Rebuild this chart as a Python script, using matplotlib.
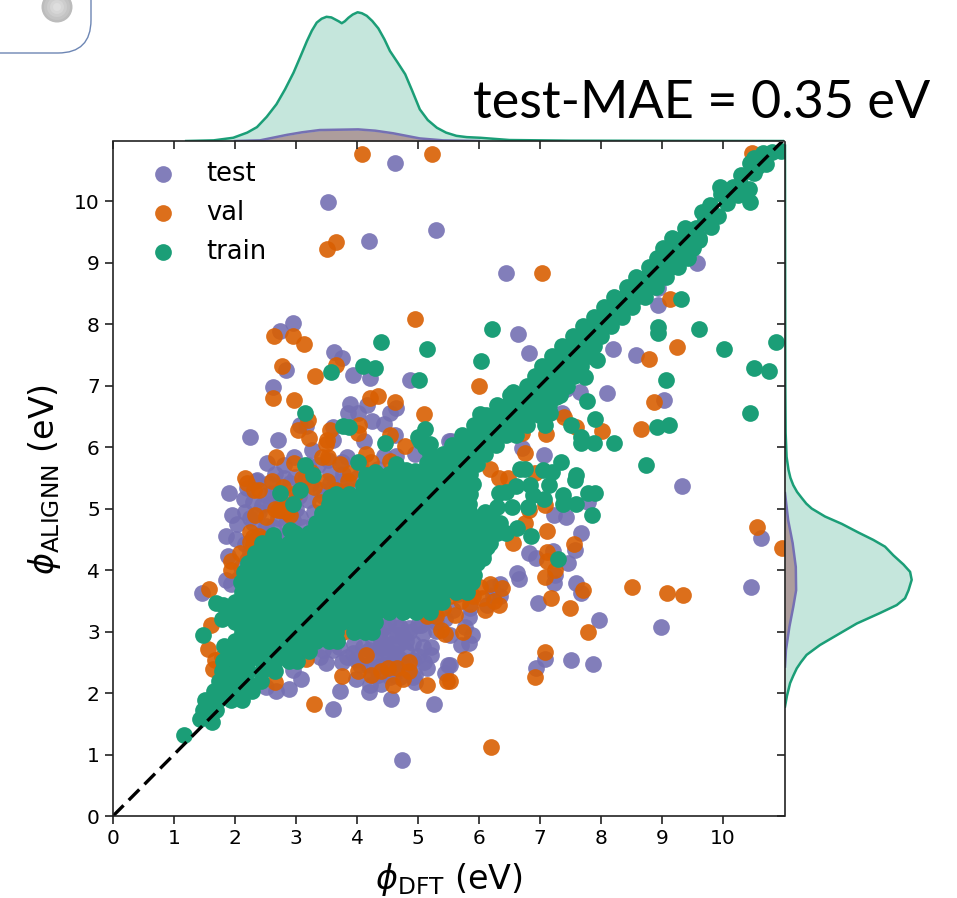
import matplotlib
matplotlib.use('Agg')
import matplotlib.pyplot as plt
from matplotlib.patches import FancyBboxPatch, Circle

##DATA

test_pts = [(4.62,10.62),(3.53,9.99),(4.20,9.35),(5.30,9.53),(2.95,8.02),(2.73,7.89),(3.62,7.55),(3.76,7.44),
    (2.83,7.25),(3.93,7.17),(4.22,7.13),(4.87,7.09),(2.62,6.97),(3.89,6.70),(4.16,6.68),(4.64,6.63),(4.54,6.55),
    (3.85,6.55),(4.02,6.56),(4.25,6.43),(4.44,6.37),(3.06,6.36),(3.16,6.34),(2.24,6.17),(2.71,6.12),(3.61,6.32),
    (4.63,6.19),(4.11,6.09),(3.27,5.95),(3.60,6.11),(5.50,6.09),(4.95,5.88),(4.64,5.85),(4.45,5.85),(3.83,5.83),
    (2.97,5.83),(2.52,5.74),(2.81,5.71),(2.65,5.56),(3.52,5.79),(3.36,5.71),(2.36,5.46),(3.55,5.57),(3.77,5.56),
    (2.98,5.52),(6.44,8.83),(6.64,7.84),(6.82,7.53),(7.43,6.95),(7.65,6.89),(8.10,6.88),(8.19,7.60),(8.57,7.49),
    (9.04,6.77),(9.57,8.99),(8.94,8.31),(9.61,9.55),(7.36,6.56),(6.71,5.98),(7.07,5.87),(5.54,6.09),(8.94,8.58),
    (1.90,5.26),(2.16,4.95),(2.03,4.75),(1.85,4.55),(1.89,4.23),(1.86,3.83),(1.94,3.77),(1.46,3.63),(2.19,5.33),
    (2.51,5.22),(2.57,5.08),(3.20,5.14),(2.19,4.16),(2.02,4.51),(2.17,4.43),(2.30,4.76),(2.49,4.38),(2.95,4.81),
    (3.11,4.70),(3.06,4.87),(2.84,4.76),(2.62,4.70),(3.22,4.60),(3.39,5.30),(3.55,5.41),(4.15,5.08),(4.21,4.92),
    (2.90,5.41),(2.35,5.44),(2.45,4.60),(2.70,4.85),(2.40,4.95),(3.00,5.00),(2.75,5.10),(3.30,4.95),(2.55,4.45),
    (2.35,4.50),(2.50,4.72),(2.65,4.55),(2.80,4.55),(2.95,4.62),(3.10,4.55),(3.30,4.75),(3.45,4.85),(2.25,4.85),
    (2.45,5.05),(2.60,5.25),(2.85,5.15),(3.05,5.20),(3.25,5.40),(3.45,5.20),(3.60,5.35),(3.85,5.30),(3.75,5.45),
    (4.00,5.50),(4.35,5.35),(4.50,5.30),(3.15,5.50),(2.80,5.50),(2.55,5.42),(2.15,5.15),(2.30,5.10),(1.95,4.90),
    (3.20,5.70),(3.75,5.75),(4.05,5.70),(4.35,5.65),(4.70,5.50),(2.25,4.30),(2.10,4.05),(2.05,3.85),
    (2.95,2.37),(3.09,2.23),(2.89,2.06),(2.67,2.04),(2.51,2.10),(3.39,2.59),(3.49,2.49),(3.76,2.51),(3.99,2.23),
    (3.72,2.04),(3.61,1.74),(4.20,2.01),(4.21,2.13),(4.39,2.14),(4.56,1.91),(4.95,2.18),(5.26,1.82),(4.74,0.91),
    (5.19,3.21),(5.29,3.01),(5.22,2.75),(5.22,2.62),(5.08,2.97),(5.49,2.45),(5.44,2.33),(4.95,2.29),(4.18,2.46),
    (3.83,2.59),(3.93,2.65),(4.10,2.75),(4.26,2.86),(4.37,2.75),(4.64,3.13),(4.54,2.92),(4.75,2.92),(4.43,2.59),
    (4.64,2.64),(4.81,2.70),(4.59,2.43),(4.75,2.48),(4.32,2.43),(4.54,2.26),(4.70,2.26),(4.92,2.54),(4.37,2.97),
    (4.70,3.08),(4.48,2.75),(4.15,2.59),(3.99,2.54),(4.92,2.81),(4.67,2.78),(4.92,2.26),(4.45,3.08),(5.08,2.75),
    (4.30,3.05),(4.50,3.15),(4.85,3.05),(5.00,3.10),(4.20,2.70),(4.30,2.60),(4.45,2.45),(4.60,2.55),(4.80,2.40),
    (4.70,2.55),(4.55,2.80),(4.40,2.85),(4.65,2.95),(4.80,2.85),(4.50,2.65),(4.85,3.00),(4.35,2.30),(4.60,2.30),
    (4.25,2.30),(4.05,2.45),(5.00,2.60),(5.10,2.50),(5.05,3.10),(5.30,3.15),(5.45,3.20),(3.95,2.80),(3.70,2.75),
    (3.60,2.70),(3.45,2.70),(5.15,2.40),
    (9.33,5.37),(10.62,4.52),(10.46,3.73),(8.99,3.07),(7.96,3.19),(7.87,2.47),(7.51,2.54),(7.08,2.56),(6.93,2.40),
    (6.96,3.46),(7.68,3.62),(7.59,3.79),(7.46,4.12),(7.23,4.90),(7.43,4.87),(7.67,4.60),(7.57,4.32),(7.22,4.31),
    (6.82,4.27),(6.94,4.19),(6.62,3.95),(6.65,3.85),(7.25,3.92),(7.23,3.79),(7.79,5.11),(6.34,3.78),(6.21,3.73),
    (6.34,3.57),(6.23,3.59),(6.13,3.43),(5.65,3.61),(5.85,3.38),(5.58,3.35),(5.83,3.24),(5.77,3.08),(5.88,2.94),
    (5.84,2.81),(5.70,2.78),(5.53,2.94),(5.53,2.46)]

val_pts = [(4.09,10.76),(5.23,10.77),(3.65,9.34),(3.51,9.22),(4.95,8.08),(2.64,7.80),(2.95,7.80),(3.13,7.67),
    (2.77,7.32),(3.31,7.16),(3.66,7.33),(2.62,6.79),(2.96,6.77),(4.34,6.83),(4.21,6.79),(4.62,6.74),(5.10,6.53),
    (3.20,6.44),(3.03,6.27),(3.22,6.14),(4.03,6.35),(4.02,6.22),(3.50,6.11),(3.49,6.05),(3.55,6.27),(4.78,6.02),
    (4.54,6.19),(2.67,5.83),(4.15,5.88),(4.54,5.78),(2.97,5.74),(3.72,5.73),(4.23,5.76),(3.42,5.84),(3.52,5.84),
    (2.17,5.50),(3.88,5.57),(4.56,5.56),(5.46,5.71),(5.27,5.62),(7.04,8.83),(9.24,7.62),(6.00,7.00),(9.13,8.40),
    (8.79,7.43),(8.87,6.74),(8.65,6.29),(8.01,6.26),(7.59,6.33),(7.39,6.49),(7.10,6.21),(10.47,10.78),(6.75,5.90),
    (6.32,5.49),(6.48,5.49),(6.92,5.58),(6.18,5.65),(6.02,6.30),(6.70,6.22),(1.58,3.69),(1.61,3.10),(1.56,2.71),
    (1.67,2.54),(1.78,2.59),(1.64,2.39),(1.80,2.43),(1.94,4.00),(1.94,4.14),(2.08,4.27),(2.30,4.54),(2.35,4.43),
    (2.32,4.89),(2.76,4.98),(2.51,4.87),(2.16,3.92),(2.19,5.41),(2.31,5.30),(3.69,4.81),(4.37,5.19),(2.79,5.35),
    (2.65,5.00),(2.85,4.95),(2.25,4.62),(2.30,4.40),(2.40,4.55),(2.25,4.45),(2.45,4.35),(2.70,4.97),(2.85,5.05),
    (2.90,4.90),(3.00,5.25),(3.40,5.10),(3.65,5.30),(3.85,5.45),(3.50,5.45),(3.30,5.35),(4.25,5.40),(4.60,5.45),
    (2.60,5.45),(2.40,5.30),(3.10,5.50),(3.75,5.20),(3.25,5.60),(2.45,4.50),(3.30,1.82),(3.75,2.28),(4.02,2.35),
    (4.23,2.29),(4.59,2.13),(4.75,2.23),(4.40,2.35),(4.65,2.40),(4.85,2.35),
    (5.15,2.13),(5.48,2.20),(5.38,3.02),(5.44,2.96),(5.41,3.38),(5.53,3.57),(4.51,2.40),(4.15,2.62),(4.86,2.51),
    (3.77,3.00),(3.17,2.56),(2.65,2.18),(5.15,3.25),(5.30,3.25),(5.70,3.50),(5.85,3.45),(6.05,3.55),(6.25,3.50),
    (10.55,4.70),(8.50,3.73),(9.09,3.62),(9.35,3.59),(10.97,4.35),(7.78,2.99),
    (7.49,3.38),(7.18,3.55),(7.09,3.88),(7.71,3.67),(7.25,4.00),(7.11,4.15),(7.11,4.30),(7.56,4.43),(7.11,4.64),
    (6.75,4.76),(6.55,4.44),(7.08,2.66),(6.92,2.26),(5.77,2.55),(6.19,1.12),(5.53,2.20),(6.18,3.78),(6.02,3.73),
    (5.90,3.57),(6.32,3.43),(6.10,3.35),(5.61,3.27),(5.74,3.00),(5.69,4.00),(6.37,3.70),(7.08,5.06),(6.82,4.98)]

train_pts = [(1.16,1.32),(1.42,1.57),(1.62,1.53),(1.69,3.46),(1.80,3.43),(1.78,3.20),(1.48,2.94),(1.82,2.77),
    (4.40,7.71),(5.14,7.59),(4.10,7.32),(4.29,7.28),(3.57,7.22),(5.02,7.09),(3.15,6.56),(3.77,6.34),(3.87,6.32),
    (5.12,6.30),(5.00,6.17),(4.46,6.07),(5.20,6.05),(5.11,6.00),(5.03,6.09),(4.02,5.75),(5.14,5.74),(3.14,5.71),
    (4.29,5.60),(4.15,5.54),(4.81,5.62),(4.95,5.61),(3.28,5.54),(5.55,5.76),(5.38,5.57),(6.21,7.92),(6.03,7.40),
    (6.01,6.54),(6.18,6.49),(5.93,6.23),(5.72,5.98),(6.56,6.90),(6.42,6.65),(9.61,7.92),(10.02,7.59),(10.87,7.71),
    (10.50,7.29),(10.75,7.23),(10.44,6.56),(9.07,7.09),(8.94,7.95),(8.94,7.86),(9.31,8.40),(8.92,6.32),(9.12,6.35),
    (8.73,5.70),(8.22,6.07),(7.89,6.07),(7.68,6.17),(7.68,6.07),(7.90,6.45),(7.77,6.75),(7.74,7.14),(7.93,7.41),
    (7.50,6.36),(7.09,6.35),(7.34,5.76),(7.05,5.62),(7.19,5.60),(7.59,5.54),(6.67,5.65),(6.75,5.65),(7.16,6.55),
    (7.27,6.82),(7.86,4.89),(7.79,5.25),(7.90,5.25),(7.59,5.08),(7.38,5.22),(7.38,5.08),(7.57,5.46),(7.14,5.38),
    (7.07,5.16),(6.89,5.22),(6.84,5.38),(6.81,5.03),(6.86,4.56),(6.60,5.36),(7.29,4.18),(6.54,5.03),(6.62,4.68),
    (6.45,4.60),(6.13,4.38),(6.06,4.19),(5.91,3.92),(5.69,3.81),(6.32,5.25),(6.34,4.76),(6.23,4.81),(6.10,4.95),
    (6.29,5.03),(6.45,5.27),(2.73,5.25),(3.06,5.30),(3.55,5.19),(4.10,5.38),(2.62,4.57),(2.90,4.65),(2.95,5.08),
    (9.60,9.36),(9.81,9.58),(9.65,9.82),(9.79,9.93),(9.92,9.75),(9.70,9.70),(10.06,9.96),(9.95,10.23),(9.97,10.12),
    (10.17,10.23),(10.25,10.10),(10.42,10.20),(10.30,10.25),(10.44,9.99),(10.30,10.42),(10.50,10.45),(10.55,10.55),
    (10.45,10.62),(10.60,10.65),(10.70,10.60),(10.65,10.78),(10.80,10.80),(10.95,10.82),(10.50,10.70)]

# dense train cloud, listed row by row: y level, then the x values on it
train_core = {
    1.72: [1.47,1.69], 1.88: [1.50,1.72,1.94,2.12], 2.04: [1.66,1.88,2.10,2.28],
    2.20: [1.74,1.96,2.18,2.42], 2.36: [1.78,2.00,2.22,2.44,2.66], 2.52: [1.80,2.00,2.22,2.44,2.66,2.88,3.02],
    2.68: [1.89,2.11,2.33,2.55,2.77,2.99,3.21], 2.84: [2.00,2.22,2.44,2.66,2.88,3.10,3.32,3.54,3.68],
    3.00: [2.11,2.33,2.55,2.77,2.99,3.21,3.43,3.65,3.95,4.13,4.25],
    3.16: [2.00,2.22,2.44,2.66,2.88,3.10,3.32,3.54,3.76,3.98,4.20,4.30],
    3.32: [1.95,2.11,2.33,2.55,2.77,2.99,3.21,3.43,3.65,3.87,4.09,4.31,4.53,4.75,4.97,5.19],
    3.48: [2.00,2.22,2.44,2.66,2.88,3.10,3.32,3.54,3.76,3.98,4.20,4.42,4.64,4.86,5.08,5.30,5.40],
    3.64: [2.11,2.33,2.55,2.77,2.99,3.21,3.43,3.65,3.87,4.09,4.31,4.53,4.75,4.97,5.19,5.41,5.63,5.80],
    3.80: [2.10,2.22,2.44,2.66,2.88,3.10,3.32,3.54,3.76,3.98,4.20,4.42,4.64,4.86,5.08,5.30,5.52,5.74,5.88],
    3.96: [2.14,2.33,2.55,2.77,2.99,3.21,3.43,3.65,3.87,4.09,4.31,4.53,4.75,4.97,5.19,5.41,5.63,5.85],
    4.12: [2.22,2.44,2.66,2.88,3.10,3.32,3.54,3.76,3.98,4.20,4.42,4.64,4.86,5.08,5.30,5.52,5.74,5.96],
    4.28: [2.33,2.55,2.77,2.99,3.21,3.43,3.65,3.87,4.09,4.31,4.53,4.75,4.97,5.19,5.41,5.63,5.85,6.07],
    4.44: [2.44,2.66,2.88,3.10,3.32,3.54,3.76,3.98,4.20,4.42,4.64,4.86,5.08,5.30,5.52,5.74,5.96,6.18],
    4.60: [2.99,3.21,3.43,3.65,3.87,4.09,4.31,4.53,4.75,4.97,5.19,5.41,5.63,5.85,6.07,6.29],
    4.76: [3.32,3.54,3.76,3.98,4.20,4.42,4.64,4.86,5.08,5.30,5.52,5.74,5.96,6.18],
    4.92: [3.43,3.65,3.87,4.09,4.31,4.53,4.75,4.97,5.19,5.41,5.63,5.85],
    5.08: [3.54,3.76,3.98,4.20,4.42,4.64,4.86,5.08,5.30,5.52,5.74,5.84],
    5.24: [3.65,3.87,4.09,4.31,4.53,4.75,4.97,5.19,5.41,5.63,5.85],
    5.40: [4.20,4.42,4.64,4.86,5.08,5.30,5.52,5.74,5.90],
    5.56: [4.31,4.53,4.75,4.97,5.19,5.41,5.63,5.85],
    5.72: [4.64,5.30,5.52,5.74,5.96], 5.88: [5.19,5.41,5.63,5.85,6.10],
    6.04: [5.56,5.74,5.92,6.10,6.28], 6.20: [5.72,5.90,6.08,6.26,6.44,6.60], 6.36: [5.92,6.10,6.28,6.46,6.64,6.78],
    6.52: [6.12,6.30,6.48,6.66,6.84,6.98], 6.68: [6.30,6.48,6.66,6.84,7.02,7.14], 6.84: [6.50,6.68,6.86,7.04,7.22,7.32],
    7.00: [6.78,6.96,7.14,7.32,7.44], 7.16: [6.92,7.10,7.28,7.46,7.56], 7.32: [7.04,7.22,7.40,7.58,7.68],
    7.48: [7.20,7.38,7.56,7.74,7.82], 7.64: [7.36,7.54,7.72,7.88], 7.80: [7.54,7.72,7.90,8.00],
    7.96: [7.70,7.88,8.06,8.16], 8.12: [7.88,8.06,8.24,8.34], 8.28: [8.05,8.23,8.41,8.50],
    8.44: [8.22,8.40,8.58,8.72], 8.60: [8.42,8.60,8.78,8.90], 8.76: [8.58,8.76,8.94,9.06],
    8.92: [8.78,8.96,9.14,9.26], 9.08: [8.92,9.10,9.28,9.42], 9.24: [9.02,9.20,9.38,9.50],
    9.40: [9.16,9.34,9.52,9.60], 9.56: [9.38,9.56],
}

# marginal densities
top_x = [1.20,1.65,1.97,2.20,2.36,2.52,2.68,2.82,2.96,3.08,3.18,3.26,3.34,3.42,3.50,3.58,3.64,3.70,3.75,3.80,3.86,
         3.93,4.01,4.08,4.16,4.25,4.35,4.45,4.54,4.66,4.79,4.90,5.03,5.16,5.31,5.46,5.63,5.80,6.02,6.50,7.50,11.0]
top_train = [0.0,0.002,0.010,0.026,0.043,0.075,0.114,0.160,0.212,0.265,0.310,0.342,0.367,0.379,0.385,0.383,0.377,0.371,
             0.365,0.371,0.382,0.392,0.399,0.396,0.388,0.372,0.349,0.315,0.279,0.245,0.207,0.158,0.098,0.065,0.041,0.026,
             0.016,0.012,0.010,0.003,0.001,0.0]
top_test_x = [2.00,2.41,2.85,3.10,3.39,3.70,4.02,4.30,4.59,5.03,5.41,6.00]
top_test = [0.0,0.002,0.019,0.027,0.034,0.035,0.036,0.032,0.024,0.008,0.002,0.0]
top_val = [0.0,0.002,0.017,0.025,0.032,0.034,0.034,0.030,0.022,0.007,0.002,0.0]

right_y = [1.78,1.95,2.16,2.28,2.40,2.50,2.62,2.78,2.94,3.13,3.30,3.43,3.54,3.67,3.84,3.97,4.09,4.24,4.38,4.49,4.61,
           4.75,4.87,5.00,5.08,5.17,5.27,5.38,5.50,5.63,5.84,6.23,7.00,10.9]
right_train = [0.0,0.006,0.016,0.026,0.037,0.050,0.068,0.110,0.163,0.226,0.299,0.352,0.378,0.389,0.399,0.394,0.373,
               0.341,0.315,0.278,0.231,0.179,0.126,0.084,0.067,0.053,0.038,0.026,0.017,0.011,0.005,0.002,0.001,0.0]
right_test_y = [2.43,2.70,3.08,3.40,3.67,4.05,4.44,4.81,5.25]
right_test = [0.0,0.003,0.014,0.026,0.035,0.034,0.024,0.010,0.0]
right_val = [0.0,0.003,0.013,0.024,0.033,0.032,0.022,0.009,0.0]

tick_vals = [0,1,2,3,4,5,6,7,8,9,10]
c_test, c_val, c_train = '#7570b3', '#d95f02', '#1b9e77'

##MAIN

W, H = 957, 898
fig = plt.figure(figsize=(W/100, H/100), dpi=100)

def box(l, t, r, b):
    return [l/W, 1-b/H, (r-l)/W, (b-t)/H]

# slide leftovers in the top left corner
bg = fig.add_axes([0, 0, 1, 1])
bg.set_xlim(0, W)
bg.set_ylim(H, 0)
bg.axis('off')
bg.add_patch(FancyBboxPatch((-60, -60), 151, 113, boxstyle='round,pad=0,rounding_size=33',
                            fc='white', ec='#6d86b4', lw=1))
for rad, grey in [(15.5,'#bcbcbc'),(13,'#c4c4c4'),(10,'#cdcdcd'),(7,'#d6d6d6'),(4,'#dedede')]:
    bg.add_patch(Circle((57, 7), rad, fc=grey, ec='none'))

ax = fig.add_axes(box(113, 142, 784, 816))
test_x, test_y = zip(*test_pts)
val_x, val_y = zip(*val_pts)
train_x, train_y = [list(v) for v in zip(*train_pts)]
for yy, xs in train_core.items():
    train_x += xs
    train_y += [yy]*len(xs)

size = 145
ax.scatter(test_x, test_y, s=size, c=c_test, alpha=0.9, linewidths=0, label='test')
ax.scatter(val_x, val_y, s=size, c=c_val, alpha=0.9, linewidths=0, label='val')
ax.scatter(train_x, train_y, s=size, c=c_train, alpha=1, linewidths=0, label='train')
ax.plot([0, 11], [0, 11], color='k', lw=2.4, dashes=(4.5, 2.2))
ax.set_xlim(0, 11)
ax.set_ylim(0, 10.96)
ax.set_xticks(tick_vals)
ax.set_yticks(tick_vals)
ax.tick_params(labelsize=14.5, length=6, width=1.2, color='#222222')
for k, s in ax.spines.items():
    s.set_linewidth(1.2)
    s.set_edgecolor('#222222')
    if k in ('top', 'right'):
        s.set_visible(False)
ax.set_xlabel(r'$\phi_{\mathrm{DFT}}$ (eV)', fontsize=24, labelpad=9)
ax.set_ylabel(r'$\phi_{\mathrm{ALIGNN}}$ (eV)', fontsize=24, labelpad=8)
ax.legend(loc='upper left', frameon=False, fontsize=18.5, handletextpad=0.68, labelspacing=0.5,
          bbox_to_anchor=(-0.002, 1.01), borderaxespad=0.6, markerscale=1.0)

# top marginal
top = fig.add_axes(box(113, 0, 784, 141))
top.patch.set_alpha(0)
top.fill_between(top_x, top_train, color=c_train, alpha=0.25, lw=0)
top.plot(top_x, top_train, color=c_train, lw=1.8)
top.fill_between(top_test_x, top_val, color=c_val, alpha=0.35, lw=0)
top.fill_between(top_test_x, top_test, color=c_test, alpha=0.35, lw=0)
top.plot(top_test_x, top_test, color=c_test, lw=1.8)
top.set_xlim(0, 11)
top.set_ylim(0, 0.437)
top.set_xticks(tick_vals)
top.set_yticks([])
top.tick_params(labelbottom=False, length=6, width=1.2, color='#222222')
for k in ['top', 'left', 'right']:
    top.spines[k].set_visible(False)
top.spines['bottom'].set_linewidth(1.2)
top.spines['bottom'].set_edgecolor('#222222')

# right marginal
side = fig.add_axes(box(785, 142, W, 816))
side.patch.set_alpha(0)
side.fill_betweenx(right_y, right_train, color=c_train, alpha=0.25, lw=0)
side.plot(right_train, right_y, color=c_train, lw=1.8)
side.fill_betweenx(right_test_y, right_val, color=c_val, alpha=0.35, lw=0)
side.fill_betweenx(right_test_y, right_test, color=c_test, alpha=0.35, lw=0)
side.plot(right_test, right_test_y, color=c_test, lw=1.8)
side.set_xlim(0, 0.5417)
side.set_ylim(0, 10.96)
side.set_yticks(tick_vals)
side.set_xticks([])
side.tick_params(labelleft=False, length=6, width=1.2, color='#222222')
for k in ['top', 'bottom', 'right']:
    side.spines[k].set_visible(False)
side.spines['left'].set_linewidth(1.2)
side.spines['left'].set_edgecolor('#222222')

fig.text(473/W, 1-118/H, 'test-MAE = 0.35 eV', fontsize=37.6, family='Lato', color='k', va='baseline')

fig.savefig('out.png', dpi=100)
